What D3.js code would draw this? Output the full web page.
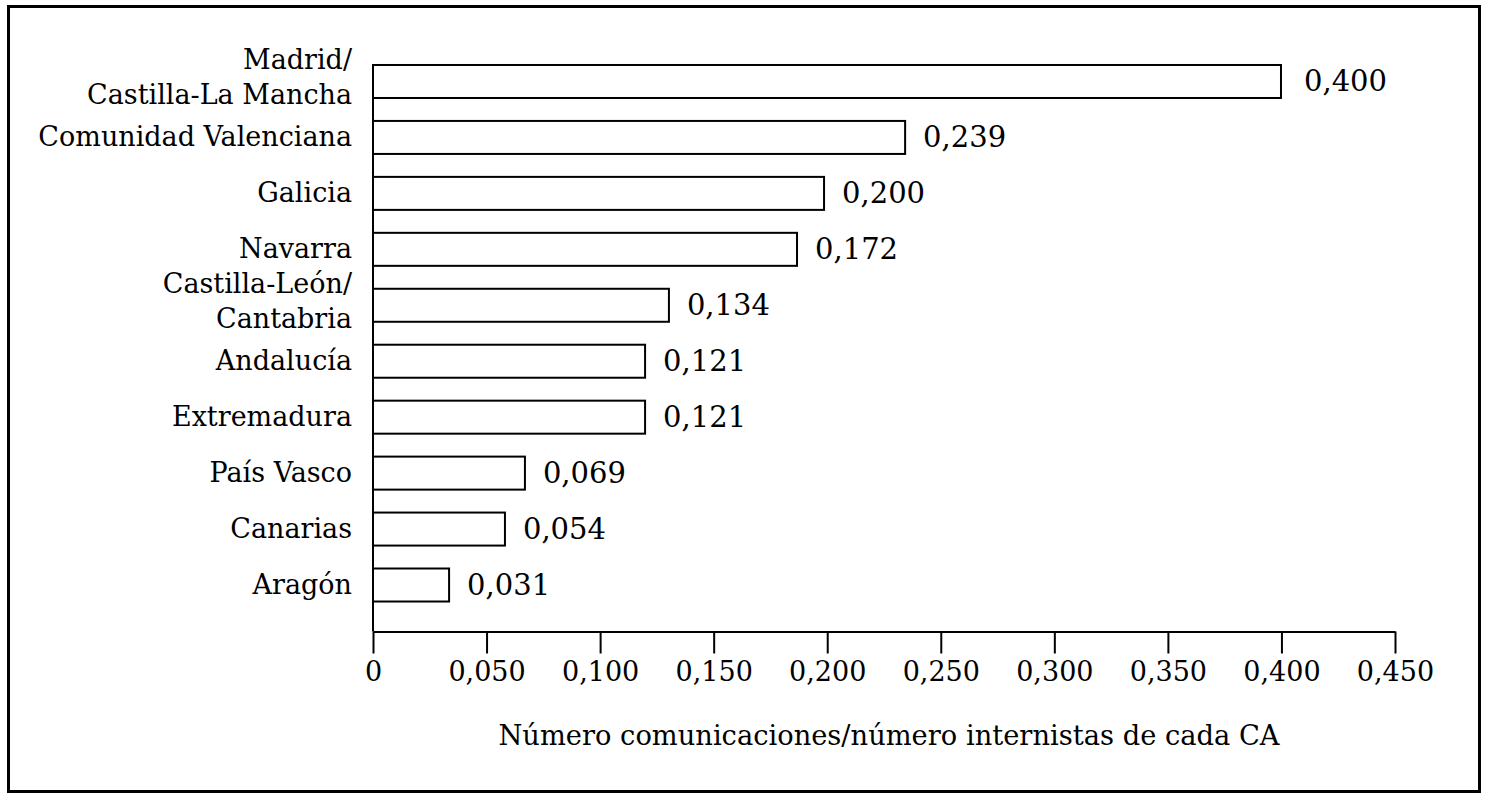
<!DOCTYPE html>
<html>
<head>
<meta charset="utf-8">
<script src="https://cdn.jsdelivr.net/npm/d3@7"></script>
<style>
  body { margin: 0; background: #fff; }
  svg text { font-family: "DejaVu Serif", serif; fill: #000; }
</style>
</head>
<body>
<svg id="chart" width="1491" height="803"></svg>
<script>
// regions, top to bottom
const regions = [
  ["Madrid/", "Castilla-La Mancha"],
  ["Comunidad Valenciana"],
  ["Galicia"],
  ["Navarra"],
  ["Castilla-León/", "Cantabria"],
  ["Andalucía"],
  ["Extremadura"],
  ["País Vasco"],
  ["Canarias"],
  ["Aragón"]
];
// printed values
const values = [0.400, 0.239, 0.200, 0.172, 0.134, 0.121, 0.121, 0.069, 0.054, 0.031];
// bar lengths as drawn in the original (not exactly the printed values)
const barLengths = [0.3998, 0.2343, 0.1986, 0.1867, 0.1303, 0.1198, 0.1198, 0.0669, 0.0581, 0.0335];
const xTicks = [0, 0.05, 0.10, 0.15, 0.20, 0.25, 0.30, 0.35, 0.40, 0.45];
const xTitle = "Número comunicaciones/número internistas de cada CA";

const svg = d3.select("#chart");
const fontSize = 27;

const es = d3.formatLocale({decimal: ",", thousands: ".", grouping: [3], currency: ["", " €"]});
const fmt = es.format(".3f");
const tickFmt = d => d === 0 ? "0" : fmt(d);

const left = 373, right = 1395, base = 631.5;

const x = d3.scaleLinear().domain([0, 0.45]).range([left, right]);
const y = d3.scaleBand()
  .domain(d3.range(regions.length))
  .range([35, base])
  .paddingInner(0.41)
  .paddingOuter(0.536);

// frame
svg.append("rect")
  .attr("x", 8.5).attr("y", 6.5)
  .attr("width", 1471).attr("height", 785)
  .attr("fill", "none").attr("stroke", "#000").attr("stroke-width", 3);

// bars
svg.append("g").selectAll("rect")
  .data(barLengths)
  .join("rect")
  .attr("x", x(0))
  .attr("y", (d, i) => y(i))
  .attr("width", d => x(d) - x(0))
  .attr("height", y.bandwidth())
  .attr("fill", "#fff")
  .attr("stroke", "#000")
  .attr("stroke-width", 2);

// value labels
svg.append("g").selectAll("text")
  .data(values)
  .join("text")
  .attr("x", (d, i) => x(barLengths[i]) + (i === 0 ? 23 : 18))
  .attr("y", (d, i) => y(i) + y.bandwidth() / 2 + 10)
  .attr("font-size", 29)
  .text(d => fmt(d));

// region labels
const lab = svg.append("g").selectAll("text")
  .data(regions)
  .join("text")
  .attr("text-anchor", "end")
  .attr("font-size", fontSize)
  .attr("y", (d, i) => y(i) + y.bandwidth() / 2 + 9 - (d.length - 1) * 21.5);
lab.selectAll("tspan")
  .data(d => d)
  .join("tspan")
  .attr("x", 352)
  .attr("dy", (d, j) => j === 0 ? 0 : 35)
  .text(d => d);

// x axis
const xAxis = svg.append("g")
  .attr("transform", `translate(0,${base})`)
  .call(d3.axisBottom(x).tickValues(xTicks).tickSize(22).tickSizeOuter(0).tickFormat(tickFmt));
xAxis.select(".domain").attr("stroke", "#000").attr("stroke-width", 2);
xAxis.selectAll(".tick line").attr("stroke", "#000").attr("stroke-width", 2);
xAxis.selectAll(".tick text")
  .attr("y", 49.5).attr("dy", null)
  .attr("font-size", fontSize)
  .attr("font-family", "DejaVu Serif, serif");

// y axis line
svg.append("line")
  .attr("x1", left).attr("x2", left)
  .attr("y1", y(0)).attr("y2", base)
  .attr("stroke", "#000").attr("stroke-width", 2);

// axis title
svg.append("text")
  .attr("x", 889).attr("y", 745)
  .attr("text-anchor", "middle")
  .attr("font-size", 27.3)
  .text(xTitle);
</script>
</body>
</html>
